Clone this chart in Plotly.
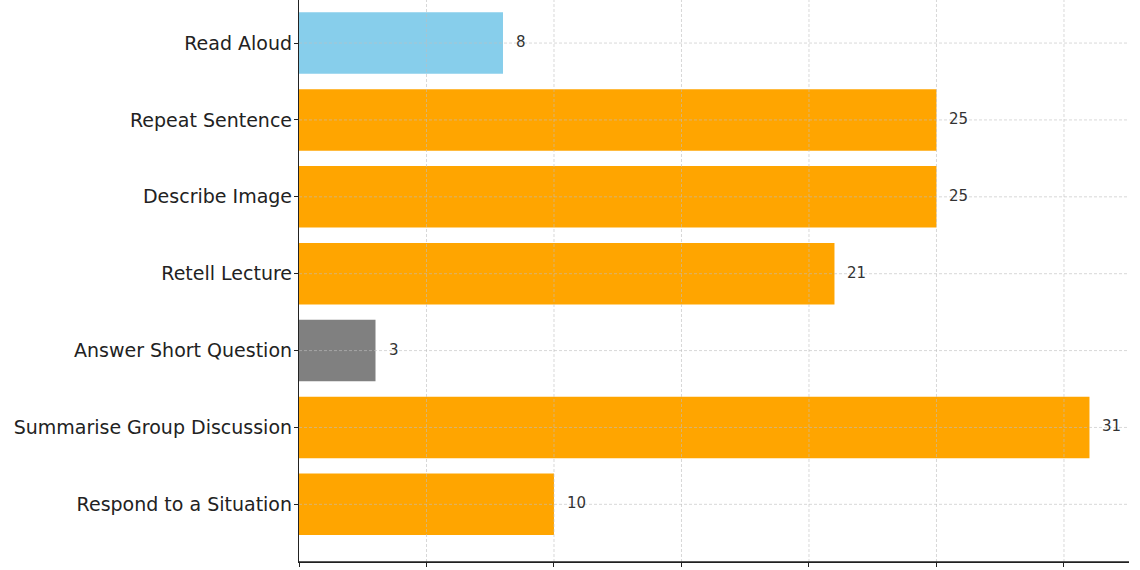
import plotly.graph_objects as go

categories = ["Read Aloud", "Repeat Sentence", "Describe Image", "Retell Lecture",
              "Answer Short Question", "Summarise Group Discussion", "Respond to a Situation"]
values = [8, 25, 25, 21, 3, 31, 10]
colors = ["#87CEEB", "#FFA500", "#FFA500", "#FFA500", "#808080", "#FFA500", "#FFA500"]
x_ticks = [0, 5, 10, 15, 20, 25, 30]

n = len(categories)
ypos = [n - 1 - i for i in range(n)]

fig = go.Figure()
fig.add_trace(go.Bar(
    x=values, y=ypos, orientation="h", width=0.8,
    marker=dict(color=colors, line=dict(width=0)),
    showlegend=False, hoverinfo="skip",
))

for v, y in zip(values, ypos):
    fig.add_annotation(x=v, y=y, text=str(v), showarrow=False, xanchor="left",
                       xshift=11, yshift=1, font=dict(size=15, color="#333333",
                                                        family="DejaVu Sans"))

grid_style = dict(color="rgba(190,190,190,0.75)", width=0.8, dash="3px,2px")
for t in x_ticks[1:]:
    fig.add_shape(type="line", x0=t, x1=t, y0=0, y1=1, xref="x", yref="paper",
                  line=grid_style, layer="above")
for y in ypos:
    fig.add_shape(type="line", x0=0, x1=1, y0=y, y1=y, xref="paper", yref="y",
                  line=grid_style, layer="above")

# bottom spine
fig.add_shape(type="line", x0=0, x1=1, y0=0, y1=0, xref="paper", yref="paper",
              line=dict(color="#222222", width=1.5), layer="above")

fig.update_layout(
    width=1140, height=570,
    margin=dict(l=299, r=11, t=0, b=8),
    paper_bgcolor="white", plot_bgcolor="white",
    font=dict(family="DejaVu Sans", color="#222222"),
    bargap=0.2,
    xaxis=dict(range=[0, 32.55], tickvals=x_ticks, ticks="outside", ticklen=4,
               tickcolor="#222222", showgrid=False, zeroline=False,
               showline=True, linecolor="#222222", linewidth=1.3,
               tickfont=dict(size=15), automargin=False, layer="above traces"),
    yaxis=dict(range=[-0.75, 6.56], tickvals=ypos, ticktext=categories,
               ticks="outside", ticklen=4, tickcolor="#222222",
               showgrid=False, zeroline=False, showline=True,
               linecolor="#222222", linewidth=1.3, ticklabelstandoff=-2,
               tickfont=dict(size=19, color="#222222"), automargin=False),
)

fig.write_html("out.html", config={"displayModeBar": False},
               post_script="document.body.style.margin='0';document.body.style.overflow='hidden';")
